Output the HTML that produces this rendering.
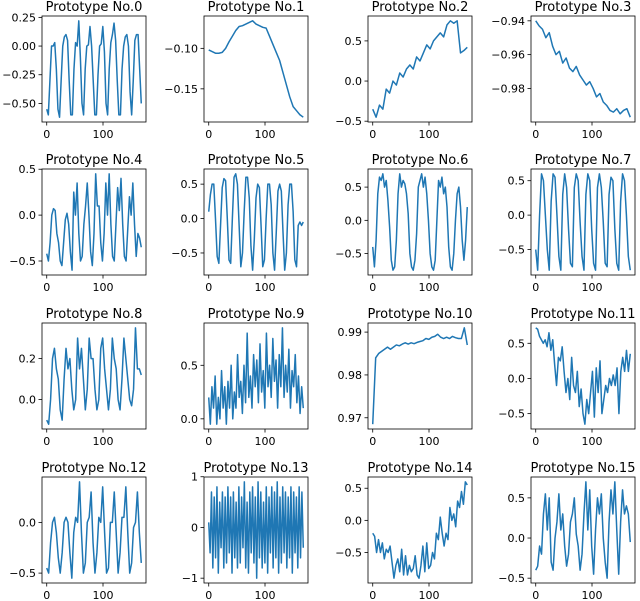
<!DOCTYPE html>
<html><head><meta charset="utf-8">
<style>
html,body{margin:0;padding:0;background:#fff;}
svg{display:block;font-family:"DejaVu Sans","Liberation Sans",sans-serif;}
</style></head>
<body>
<svg id="chart" width="640" height="601" viewBox="0 0 640 601" xmlns="http://www.w3.org/2000/svg"></svg>
<script>
const s0=[-0.55,-0.6,-0.3,0.0,0.0,0.03,-0.2,-0.55,-0.62,-0.3,0.0,0.08,0.1,0.05,-0.3,-0.6,-0.6,-0.2,0.03,0.0,0.22,-0.1,-0.5,-0.6,-0.2,0.0,0.01,0.17,0.0,-0.3,-0.6,-0.6,-0.25,0.0,0.02,0.17,-0.05,-0.5,-0.6,-0.2,0.03,0.1,0.2,0.05,-0.3,-0.6,-0.6,-0.2,0.0,0.08,0.1,0.0,-0.4,-0.6,-0.3,0.05,0.1,0.1,-0.2,-0.5];
const s1=[-0.102,-0.104,-0.106,-0.106,-0.105,-0.100,-0.092,-0.085,-0.078,-0.073,-0.072,-0.070,-0.068,-0.066,-0.070,-0.072,-0.074,-0.075,-0.085,-0.095,-0.105,-0.115,-0.130,-0.145,-0.160,-0.172,-0.177,-0.182,-0.185];
const s2=[-0.35,-0.45,-0.3,-0.35,-0.1,-0.15,0.0,-0.05,0.1,0.05,0.15,0.2,0.15,0.3,0.25,0.35,0.45,0.4,0.5,0.55,0.6,0.55,0.7,0.75,0.72,0.75,0.35,0.38,0.42];
const s3=[-0.94,-0.943,-0.945,-0.95,-0.947,-0.955,-0.96,-0.958,-0.965,-0.962,-0.968,-0.97,-0.967,-0.972,-0.975,-0.978,-0.976,-0.98,-0.985,-0.983,-0.988,-0.99,-0.993,-0.994,-0.992,-0.995,-0.993,-0.992,-0.997];
const s4=[-0.42,-0.5,-0.3,0.0,0.07,0.05,-0.2,-0.3,-0.5,-0.55,-0.3,-0.05,0.02,-0.1,-0.4,-0.6,0.25,0.0,0.35,-0.2,-0.5,-0.45,-0.1,0.1,0.35,0.0,-0.4,-0.55,-0.2,0.45,0.1,0.1,-0.3,-0.5,-0.2,0.35,0.0,0.45,-0.1,-0.45,-0.5,-0.1,0.3,0.05,0.4,-0.1,-0.45,-0.5,-0.15,0.2,0.0,0.35,-0.1,-0.45,-0.2,-0.25,-0.35];
const s5=[0.1,0.35,0.5,0.5,0.0,-0.55,-0.65,-0.1,0.45,0.58,0.55,0.0,-0.6,-0.65,0.0,0.6,0.65,0.5,-0.1,-0.7,-0.5,0.1,0.6,0.6,0.3,-0.4,-0.75,-0.3,0.3,0.5,0.45,-0.1,-0.7,-0.6,0.0,0.5,0.5,0.2,-0.5,-0.75,-0.2,0.4,0.5,0.4,-0.2,-0.75,-0.5,0.2,0.5,0.5,0.1,-0.6,-0.7,-0.1,-0.05,-0.1,-0.05];
const s6=[-0.4,-0.7,-0.3,0.4,0.65,0.6,0.7,0.5,0.6,0.3,-0.1,-0.6,-0.75,-0.7,-0.3,0.4,0.7,0.5,0.6,0.55,0.4,0.1,-0.5,-0.7,-0.75,-0.6,-0.2,0.5,0.6,0.7,0.5,0.65,0.4,0.0,-0.5,-0.7,-0.75,-0.6,0.0,0.6,0.5,0.65,0.4,0.5,0.2,-0.4,-0.7,-0.75,-0.5,0.0,0.4,0.5,0.2,-0.3,-0.6,-0.3,0.2];
const s7=[-0.5,-0.8,0.0,0.6,0.5,0.0,-0.5,-0.8,0.2,0.6,0.55,0.0,-0.6,-0.8,0.3,0.6,0.4,-0.2,-0.7,-0.75,0.4,0.6,0.5,-0.1,-0.6,-0.8,0.3,0.6,0.5,-0.2,-0.7,-0.8,0.4,0.6,0.4,-0.1,-0.7,-0.75,0.3,0.55,0.5,-0.2,-0.7,-0.8,0.2,0.6,0.5,0.0,-0.6,-0.8];
const s8=[-0.1,-0.12,0.0,0.2,0.25,0.15,0.1,-0.05,-0.1,0.1,0.25,0.15,0.2,0.05,-0.05,0.0,0.3,0.15,0.25,0.1,-0.05,0.05,0.3,0.2,0.2,0.05,-0.05,0.0,0.25,0.3,0.15,0.05,-0.05,0.05,0.3,0.2,0.15,0.0,-0.05,0.1,0.3,0.2,0.1,0.0,-0.03,0.05,0.35,0.15,0.15,0.12];
const s9=[0.2,-0.05,0.3,0.1,0.4,-0.05,0.2,0.0,0.45,0.1,0.3,-0.05,0.35,0.1,0.5,0.0,0.25,0.1,0.6,0.2,0.35,0.05,0.5,0.15,0.8,0.2,0.4,0.1,0.6,0.3,0.55,0.15,0.7,0.25,0.45,0.1,0.8,0.3,0.5,0.2,0.75,0.35,0.55,0.1,0.6,0.3,0.85,0.2,0.5,0.25,0.65,0.1,0.45,0.3,0.6,0.15,0.4,0.05,0.3,0.1];
const s10=[0.9685,0.984,0.985,0.9855,0.986,0.9865,0.986,0.9865,0.987,0.9868,0.9872,0.9875,0.9872,0.9875,0.9873,0.9876,0.9878,0.988,0.9885,0.9883,0.9888,0.989,0.9895,0.9888,0.9885,0.9888,0.9885,0.989,0.9887,0.9885,0.9885,0.991,0.987];
const s11=[0.72,0.7,0.6,0.55,0.5,0.55,0.45,0.65,0.4,0.55,0.2,-0.1,0.3,0.25,0.45,0.1,-0.2,0.0,-0.3,0.3,-0.1,-0.2,0.1,-0.4,-0.15,-0.5,-0.65,-0.3,-0.5,-0.2,0.1,-0.55,0.15,-0.2,0.25,-0.5,-0.3,-0.1,-0.2,0.0,-0.1,0.05,-0.1,0.15,-0.5,0.1,0.3,0.1,0.4,0.1,0.35];
const s12=[-0.45,-0.5,-0.2,0.0,0.05,-0.1,-0.35,-0.5,-0.3,0.0,0.05,0.0,-0.3,-0.55,-0.1,0.05,0.0,0.4,-0.1,-0.5,-0.4,0.0,0.05,0.3,-0.2,-0.5,-0.3,0.05,0.0,0.35,-0.1,-0.5,-0.45,0.0,0.0,0.3,-0.1,-0.5,-0.3,0.05,0.05,0.35,-0.1,-0.5,-0.4,-0.05,0.0,0.3,-0.1,-0.4];
const s13=[0.1,-0.5,0.7,-0.8,0.6,-0.6,0.8,-0.9,0.5,-0.4,0.7,-0.8,0.6,-0.7,0.8,-0.5,0.6,-0.9,0.7,-0.6,0.5,-0.8,0.8,-0.7,0.6,-0.4,0.9,-0.8,0.5,-0.9,0.7,-0.5,0.8,-0.7,0.6,-1.0,0.9,-0.6,0.7,-0.8,0.5,-0.7,0.8,-0.9,0.6,-0.5,0.8,-0.8,0.7,-0.6,0.9,-0.9,0.6,-0.7,0.8,-0.5,0.7,-0.8,0.6,-0.6,0.8,-0.9,0.7,-0.5,0.6,-0.8,0.8,-0.6,0.7,-0.4];
const s14=[-0.2,-0.25,-0.5,-0.3,-0.5,-0.35,-0.6,-0.45,-0.5,-0.4,-0.65,-0.9,-0.7,-0.6,-0.8,-0.45,-0.85,-0.55,-0.85,-0.7,-0.8,-0.75,-0.55,-0.85,-0.9,-0.7,-0.4,-0.8,-0.35,-0.75,-0.7,-0.5,-0.6,-0.2,-0.3,0.05,-0.2,-0.4,-0.2,-0.3,0.2,0.0,0.1,-0.1,0.3,0.2,0.45,0.25,0.6,0.55];
const s15=[-0.4,-0.35,-0.1,-0.2,0.3,0.55,0.1,0.5,-0.3,-0.4,0.0,0.2,0.55,0.1,0.3,-0.1,-0.35,-0.2,0.2,0.3,0.5,0.05,-0.1,-0.4,-0.2,0.3,0.7,0.1,0.6,-0.1,-0.45,0.1,0.5,0.3,0.55,0.0,-0.3,-0.5,0.2,0.6,0.3,0.7,0.1,-0.45,0.2,0.6,0.3,0.4,0.3,-0.05];
const series=[s0,s1,s2,s3,s4,s5,s6,s7,s8,s9,s10,s11,s12,s13,s14,s15];
const yTicks=[[0.25,0,-0.25,-0.5],[-0.10,-0.15],[0.5,0,-0.5],[-0.94,-0.96,-0.98],[0.5,0,-0.5],[0.5,0,-0.5],[0.5,0,-0.5],[0.5,0,-0.5],[0.2,0.0],[0.5,0.0],[0.99,0.98,0.97],[0.5,0,-0.5],[0,-0.5],[1,0,-1],[0.5,0,-0.5],[0.5,0,-0.5]];
const yDec=[2,2,1,2,1,1,1,1,1,1,2,1,1,0,1,1];
const xTicks=[0,100];
const xMax=168;

const NS="http://www.w3.org/2000/svg";
const svg=document.getElementById('chart');
const L=[42,204,368,531], T=[16,169,323,477], W=104, H=106;
function mk(tag,attrs,parent){const e=document.createElementNS(NS,tag);for(const k in attrs)e.setAttribute(k,attrs[k]);(parent||svg).appendChild(e);return e;}
function fmt(v,d){const s=Math.abs(v).toFixed(d);return (v<0?'\u2212':'')+s;}
series.forEach((data,i)=>{
  const r=Math.floor(i/4), c=i%4, x0=L[c], y0=T[r];
  const g=mk('g',{});
  
  
  const mn=Math.min(...data), mx=Math.max(...data), pad=(mx-mn)*0.05;
  const ylo=mn-pad, yhi=mx+pad, xlo=-xMax*0.05, xhi=xMax*1.05;
  const sx=v=>x0+(v-xlo)/(xhi-xlo)*W;
  const sy=v=>y0+H-(v-ylo)/(yhi-ylo)*H;
  const pts=data.map((v,k)=>sx(k*xMax/(data.length-1)).toFixed(2)+','+sy(v).toFixed(2)).join(' ');
  const line=mk('polyline',{points:pts,fill:'none',stroke:'#1f77b4','stroke-width':1.5,'stroke-linejoin':'round'},g);
  
  
  const fr=mk('rect',{x:x0,y:y0,width:W,height:H,fill:'none',stroke:'#000','stroke-width':0.8},g);
  
  
  const t=mk('text',{x:x0+W/2,y:y0-5,'text-anchor':'middle','font-size':13},g);
  t.textContent='Prototype No.'+i;
  
  
  yTicks[i].forEach(v=>{
    const y=sy(v);
    mk('line',{x1:x0-3.5,x2:x0,y1:y,y2:y,stroke:'#000','stroke-width':0.8},g);
    const lb=mk('text',{x:x0-6,y:y+4,'text-anchor':'end','font-size':11},g);
    lb.textContent=fmt(v,yDec[i]);
    
    
  });
  xTicks.forEach(v=>{
    const x=sx(v);
    mk('line',{x1:x,x2:x,y1:y0+H,y2:y0+H+3.5,stroke:'#000','stroke-width':0.8},g);
    const lb=mk('text',{x:x,y:y0+H+16,'text-anchor':'middle','font-size':11},g);
    lb.textContent=String(v);
    
    
  });
});
</script>
</body></html>
